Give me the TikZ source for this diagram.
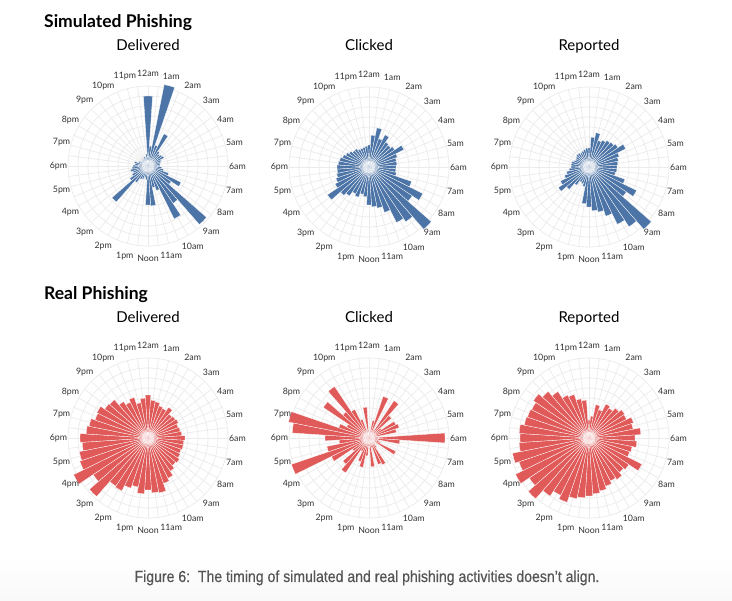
\documentclass[tikz,border=0pt]{standalone}
\usepackage{fontspec}
\setmainfont{Lato}
\newfontfamily\lblfont{Lato}
\newfontfamily\capfont[FakeStretch=0.88,FakeBold=0.4]{Liberation Sans}
\definecolor{sblue}{HTML}{4C74A6}
\definecolor{rred}{HTML}{E05A5A}
\definecolor{gridc}{HTML}{EBEBEB}
\definecolor{lblc}{HTML}{333333}
\definecolor{capc}{HTML}{555555}
\newcommand\lblsize{\lblfont\fontsize{8.8}{10}\selectfont}
\newlength\lblwd
\tikzset{
  gridline/.style={draw=gridc,line width=0.7pt},
  hourlbl/.style={font=\lblsize, text=lblc, inner sep=0pt, anchor=center},
  barwedge/.style={draw=white,line width=0.3pt},
  maintitle/.style={font=\bfseries\fontsize{17.5}{20}\selectfont, anchor=base west, inner sep=0pt},
  subtitle/.style={font=\fontsize{15}{18}\selectfont, anchor=base, inner sep=0pt},
  captext/.style={font=\capfont\fontsize{16}{18}\selectfont, text=capc, anchor=base, inner sep=0pt}
}
\newcommand\polarchart[5]{%
\begin{scope}[shift={(#2,#3)}]
\coordinate (#1c) at (0,0);
\foreach \r in {10,20,...,80} \draw[gridline] (0,0) circle[radius=\r];
\foreach \k in {0,...,47} \draw[gridline] (0,0) -- ({\k*7.5}:80);
\foreach \v [count=\i from 0] in {#5} {%
  \pgfmathsetmacro\sa{90-\i*7.5+3.75}%
  \pgfmathsetmacro\ea{90-\i*7.5-3.75}%
  \ifdim\v pt>0pt \filldraw[barwedge,fill=#4] (0,0) -- (\sa:\v) arc[start angle=\sa,end angle=\ea,radius=\v] -- cycle;\fi
}
\foreach \lab [count=\h from 0] in {12am,1am,2am,3am,4am,5am,6am,7am,8am,9am,10am,11am,Noon,1pm,2pm,3pm,4pm,5pm,6pm,7pm,8pm,9pm,10pm,11pm} {%
  \settowidth\lblwd{\lblsize\lab}%
  \pgfmathsetmacro\pa{90-15*\h}%
  \pgfmathsetmacro\xs{cos(\pa)*0.5*\the\lblwd}%
  \pgfmathsetmacro\ys{sin(\pa)*3.3}%
  \node[hourlbl,xshift=\xs pt,yshift=\ys pt] (#1h\h) at (\pa:89.5) {\lab};
}
\end{scope}}
\begin{document}
\begin{tikzpicture}[x=1pt,y=1pt]
\useasboundingbox (0,0) rectangle (732,-601);
\fill[white] (0,0) rectangle (732,-601);
\shade[top color=white,bottom color=black!2.5] (0,-556) rectangle (732,-601);
\node[maintitle] (simt) at (44,-28) {Simulated Phishing};
\node[maintitle] (realt) at (44,-300) {Real Phishing};
\node[subtitle] (s1) at (148,-51) {Delivered};
\node[subtitle] (s2) at (369,-51) {Clicked};
\node[subtitle] (s3) at (589,-51) {Reported};
\node[subtitle] (r1) at (148,-323) {Delivered};
\node[subtitle] (r2) at (369,-323) {Clicked};
\node[subtitle] (r3) at (589,-323) {Reported};
\polarchart{ca}{148}{-166}{sblue}{70,20,83,22,36,18,16,17,18,14,13,12,12,14,16,22,37,28,78,45,59,26,22,40,39,14,12,14,15,20,48,22,18,16,18,16,15,13,14,10,9,8,8,9,8,10,9,12}
\polarchart{cb}{369}{-167}{sblue}{22,32,40,30,36,30,29,31,39,30,28,28,27,27,28,45,60,52,83,66,62,48,42,40,38,30,28,32,30,35,38,50,38,35,33,32,32,31,30,28,26,24,22,22,20,20,20,21}
\polarchart{cc}{589}{-167}{sblue}{19,30,35,28,30,32,33,35,41,32,30,29,28,28,27,38,53,45,83,72,64,52,46,44,40,37,20,18,17,22,30,37,32,26,23,20,18,18,18,16,15,16,17,17,16,17,18,19}
\polarchart{cd}{148}{-438}{rred}{43,38,37,34,33,37,32,33,34,32,33,34,37,36,36,35,36,38,37,40,45,48,56,55,52,56,50,53,59,58,78,66,83,72,70,66,68,62,60,56,57,52,51,44,40,43,36,40}
\polarchart{ce}{369}{-438}{rred}{6,0,18,44,10,45,30,15,30,32,28,8,76,31,10,12,30,8,5,12,30,28,10,29,8,18,30,25,15,42,35,20,42,82,43,30,44,77,82,32,25,55,35,62,32,20,8,31}
\polarchart{cf}{589}{-438}{rred}{18,22,34,30,38,36,40,43,42,47,45,52,46,48,44,43,59,48,46,50,48,51,54,56,58,60,62,68,64,70,81,72,82,74,78,70,69,70,66,65,64,67,62,56,48,46,40,38}
\node[captext] (cap) at (367,-582) {Figure 6:\ \ The timing of simulated and real phishing activities doesn’t align.};
\end{tikzpicture}
\end{document}
